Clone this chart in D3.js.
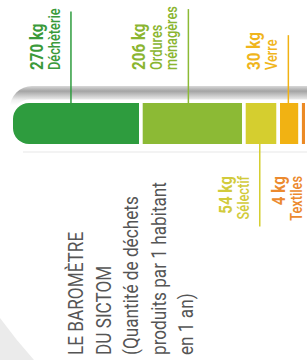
<!DOCTYPE html>
<html>
<head>
<meta charset="utf-8">
<script src="https://cdn.jsdelivr.net/npm/d3@7"></script>
<style>
  html, body { margin: 0; padding: 0; background: #fff; }
  svg { display: block; }
</style>
</head>
<body>
<svg id="chart" width="307" height="360"></svg>
<script>
// data
var categories = ["Déchèterie", "Ordures ménagères", "Sélectif", "Verre", "Textiles"];
var values = [270, 206, 54, 30, 4];
var nameLines = [["Déchèterie"], ["Ordures", "ménagères"], ["Sélectif"], ["Verre"], ["Textiles"]];
var sides = ["top", "top", "bottom", "top", "bottom"];
var titleLines = ["LE BAROMÈTRE", "DU SICTOM", "(Quantité de déchets", "produits par 1 habitant", "en 1 an)"];

var WIDTH = 307, HEIGHT = 360;
var BAR_X = 13, BAR_Y = 103, BAR_H = 41, GAP = 3.7, RADIUS = 16;
var FONT = "Roboto, 'DejaVu Sans', sans-serif";
// no condensed face is installed, so text is squeezed along its reading direction
var SQ_NUM = 0.8, SQ_NAME = 0.8, SQ_TITLE = 0.86;

var color = d3.scaleOrdinal()
  .domain(categories)
  .range(["#2e9c3e", "#8cba35", "#d5ce2f", "#f1b213", "#ec8a25"]);
var textColor = d3.scaleOrdinal()
  .domain(categories)
  .range(["#3a9a3a", "#8ab530", "#d2cb3c", "#f0b51c", "#ec8a2e"]);

// the infographic is not drawn to a linear scale, a power scale follows it best
var w = d3.scalePow().exponent(0.88).domain([0, 270]).range([0, 126]);

var segs = [];
var cur = BAR_X;
for (var i = 0; i < values.length; i++) {
  var width = w(values[i]);
  segs.push({name: categories[i], value: values[i], lines: nameLines[i], side: sides[i], x0: cur, w: width});
  cur += width + GAP;
}

var vis = d3.select("#chart");
var defs = vis.append("defs");
var grad = defs.append("linearGradient")
  .attr("id", "shade").attr("x1", 0).attr("y1", 0).attr("x2", 0).attr("y2", 1);
grad.append("stop").attr("offset", "0%").attr("stop-color", "#d8d8d8");
grad.append("stop").attr("offset", "8%").attr("stop-color", "#a4a4a4");
grad.append("stop").attr("offset", "22%").attr("stop-color", "#f0f0f0");
grad.append("stop").attr("offset", "30%").attr("stop-color", "#ffffff");

// light grey corner at bottom left
vis.append("path")
  .attr("d", "M0,318 Q16,340 34,360 L0,360 Z")
  .attr("fill", "#ebebeb");

// tube shadow around the bar
vis.append("rect")
  .attr("x", BAR_X - 3).attr("y", 86)
  .attr("width", WIDTH + 20).attr("height", 64)
  .attr("rx", 22).attr("fill", "url(#shade)");
vis.append("rect")
  .attr("x", BAR_X - 2).attr("y", 99.5)
  .attr("width", WIDTH + 20).attr("height", BAR_H + 7)
  .attr("rx", 19).attr("fill", "#fff");
vis.append("line")
  .attr("x1", BAR_X + 10).attr("x2", WIDTH)
  .attr("y1", 152).attr("y2", 152)
  .attr("stroke", "#efefef").attr("stroke-width", 1.5);

function segPath(d, i) {
  if (i > 0) {
    return "M" + d.x0 + "," + BAR_Y + "h" + d.w + "v" + BAR_H + "h" + (-d.w) + "Z";
  }
  var p = d3.path();
  p.moveTo(d.x0 + d.w, BAR_Y);
  p.lineTo(d.x0 + RADIUS, BAR_Y);
  p.arcTo(d.x0, BAR_Y, d.x0, BAR_Y + RADIUS, RADIUS);
  p.lineTo(d.x0, BAR_Y + BAR_H - RADIUS);
  p.arcTo(d.x0, BAR_Y + BAR_H, d.x0 + RADIUS, BAR_Y + BAR_H, RADIUS);
  p.lineTo(d.x0 + d.w, BAR_Y + BAR_H);
  p.closePath();
  return p.toString();
}

vis.append("g").selectAll("path")
  .data(segs)
  .enter().append("path")
  .attr("d", segPath)
  .attr("fill", function (d) { return color(d.name); });

// labels, written upwards
var TOP_BASE = 70, BOTTOM_END = 176;
segs.forEach(function (d, i) {
  var lx = i == segs.length - 1 ? d.x0 + 11 : d.x0 + d.w * 0.46;
  var g = vis.append("g");
  var rows = [{text: d.value + " kg", bold: true}].concat(d.lines.map(function (t) { return {text: t, bold: false}; }));
  var n = rows.length;
  var lens = [];
  rows.forEach(function (r, j) {
    var base;
    if (j == 0) base = lx - 11 - 15 * (n - 2) - 17;
    else base = lx - 11 - 15 * (n - 1 - j);
    var y = d.side == "top" ? TOP_BASE : BOTTOM_END;
    var sq = r.bold ? SQ_NUM : SQ_NAME;
    var t = g.append("text")
      .attr("transform", "translate(" + base + "," + y + ") rotate(-90) scale(" + sq + ",1)")
      .attr("text-anchor", d.side == "top" ? "start" : "end")
      .attr("font-family", FONT)
      .attr("font-weight", r.bold ? 700 : 500)
      .attr("font-size", r.bold ? 19 : 16)
      .attr("fill", textColor(d.name))
      .text(r.text);
    lens.push(t.node().getComputedTextLength() * sq);
  });
  if (i == segs.length - 1) return;
  var maxLen = d3.max(lens);
  var y1, y2;
  if (d.side == "top") { y1 = TOP_BASE - maxLen + 3; y2 = BAR_Y; }
  else { y1 = BAR_Y + BAR_H; y2 = BOTTOM_END + maxLen + 7; }
  g.append("line")
    .attr("x1", lx).attr("x2", lx)
    .attr("y1", y1).attr("y2", y2)
    .attr("stroke", color(d.name))
    .attr("stroke-width", 1.5);
});

// title, written upwards
var titleBase = [83, 110.5, 138, 165.5, 193];
vis.append("g").selectAll("text")
  .data(titleLines)
  .enter().append("text")
  .attr("transform", function (d, i) { return "translate(" + titleBase[i] + ",355) rotate(-90) scale(" + SQ_TITLE + ",1)"; })
  .attr("font-family", FONT)
  .attr("font-size", 20)
  .attr("fill", "#555")
  .text(function (d) { return d; });
</script>
</body>
</html>
